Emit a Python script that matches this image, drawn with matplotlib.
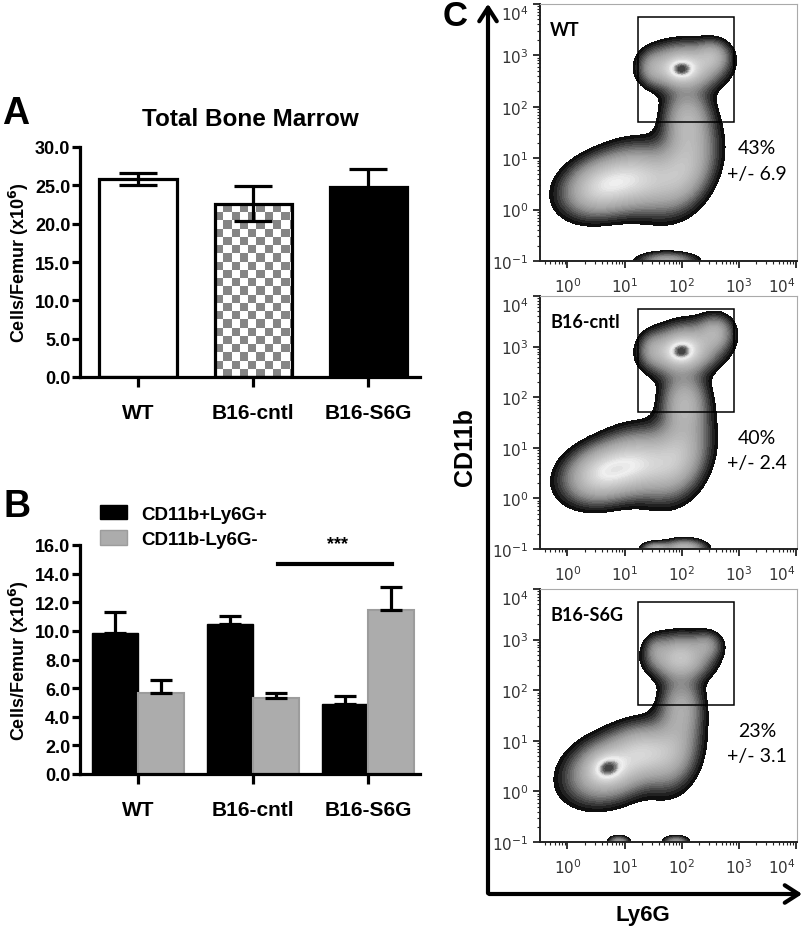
import numpy as np
import matplotlib
matplotlib.use("Agg")
import matplotlib.pyplot as plt
from matplotlib.colors import LinearSegmentedColormap, Normalize
from matplotlib.patches import FancyArrowPatch, Patch

plt.rcParams['font.family'] = ['Liberation Sans', 'DejaVu Sans']

# ---- data -------------------------------------------------------------
groups = ['WT', 'B16-cntl', 'B16-S6G']

# A: total bone marrow (x10^6 cells / femur)
total_mean = [25.8, 22.6, 24.8]
total_sem = [0.8, 2.3, 2.3]

# B: subsets
pos_mean = [9.85, 10.45, 4.9]      # CD11b+Ly6G+
pos_sem = [1.5, 0.6, 0.55]
neg_mean = [5.65, 5.3, 11.45]      # CD11b-Ly6G-
neg_sem = [0.9, 0.35, 1.6]

# C: gate percentages
gate_pct = ['43%', '40%', '23%']
gate_sd = ['+/- 6.9', '+/- 2.4', '+/- 3.1']
gate_x = [1.23, 2.91]   # log10 Ly6G
gate_y = [1.70, 3.75]   # log10 CD11b

# density components: x, y (log10), sx, sy, angle, weight
wt_cx = [1.98, 2.05, 2.55, 1.50, 2.10, 2.05, 0.60, 1.30, 1.75]
wt_cy = [2.72, 2.78, 3.00, 2.75, 1.75, 0.80, 0.45, 0.60, -1.00]
wt_sx = [0.17, 0.38, 0.18, 0.15, 0.25, 0.30, 0.42, 0.40, 0.30]
wt_sy = [0.14, 0.26, 0.18, 0.20, 0.40, 0.50, 0.32, 0.38, 0.10]
wt_ang = [0, 0, 0, 0, 0, -20, 25, 0, 0]
wt_w = [0.32, 0.55, 0.25, 0.15, 0.35, 0.40, 0.55, 0.45, 0.30]

cn_cx = [1.98, 2.05, 2.60, 1.50, 2.05, 1.95, 0.63, 1.30, 1.55, 2.05]
cn_cy = [2.90, 2.95, 3.30, 2.95, 1.90, 0.85, 0.50, 0.70, -1.00, -1.00]
cn_sx = [0.17, 0.38, 0.18, 0.15, 0.24, 0.30, 0.42, 0.38, 0.15, 0.22]
cn_sy = [0.15, 0.28, 0.20, 0.20, 0.38, 0.50, 0.32, 0.38, 0.08, 0.11]
cn_ang = [0, 15, 0, 0, 0, -15, 25, 0, 0, 0]
cn_w = [0.32, 0.55, 0.25, 0.15, 0.35, 0.40, 0.60, 0.45, 0.30, 0.40]

s6_cx = [1.98, 2.45, 1.55, 2.00, 1.85, 0.69, 0.75, 1.35, 0.90, 1.90]
s6_cy = [2.65, 2.90, 2.80, 1.70, 0.80, 0.46, 0.45, 0.80, -1.00, -1.00]
s6_sx = [0.32, 0.16, 0.12, 0.22, 0.28, 0.19, 0.47, 0.32, 0.11, 0.13]
s6_sy = [0.26, 0.16, 0.18, 0.38, 0.48, 0.17, 0.35, 0.32, 0.07, 0.07]
s6_ang = [0, 0, 0, 0, -10, 30, 30, 0, 0, 0]
s6_w = [0.55, 0.20, 0.12, 0.32, 0.35, 0.38, 0.60, 0.40, 0.30, 0.30]

panels_c = [
    ('WT', wt_cx, wt_cy, wt_sx, wt_sy, wt_ang, wt_w),
    ('B16-cntl', cn_cx, cn_cy, cn_sx, cn_sy, cn_ang, cn_w),
    ('B16-S6G', s6_cx, s6_cy, s6_sx, s6_sy, s6_ang, s6_w),
]

# ---- figure -----------------------------------------------------------
W, H = 806, 929
fig = plt.figure(figsize=(W / 100, H / 100), dpi=100)


def fx(px):
    return px / W


def fy(py):
    return 1 - py / H


def style_bar_axes(ax, ymax, step):
    for s in ['top', 'right']:
        ax.spines[s].set_visible(False)
    for s in ['left', 'bottom']:
        ax.spines[s].set_linewidth(2.3)
    ax.set_xlim(-0.504, 2.45)
    ax.set_ylim(0, ymax)
    ax.set_yticks(np.arange(0, ymax + 0.01, step))
    ax.set_yticklabels(['%.1f' % v for v in np.arange(0, ymax + 0.01, step)])
    ax.set_xticks(range(3))
    ax.set_xticklabels(groups)
    ax.tick_params(axis='y', direction='out', length=6, width=2.3, labelsize=13, pad=1)
    ax.tick_params(axis='x', direction='out', length=7, width=2.3, labelsize=15, pad=12)
    for lab in ax.get_xticklabels() + ax.get_yticklabels():
        lab.set_fontweight('bold')
    ax.set_ylabel('Cells/Femur (x10$^\\mathbf{6}$)', fontsize=13, fontweight='bold', labelpad=3)


# ---- panel A ----------------------------------------------------------
axA = fig.add_axes([fx(80), fy(378), fx(420) - fx(80), (378 - 148) / H])
x = np.arange(3)
bars = axA.bar(x, total_mean, width=0.67, color=['white', 'none', 'black'],
               edgecolor='black', linewidth=2.3, zorder=2)
# checkerboard fill for B16-cntl
b = bars[1]
nxs, nys = 10, 23
checker = (np.add.outer(np.arange(nys), np.arange(nxs)) % 2).astype(float)
im = axA.imshow(checker, cmap=LinearSegmentedColormap.from_list('ck', ['white', '#858585']),
                extent=[b.get_x(), b.get_x() + nxs * 0.0713, 0, nys * 1.07],
                origin='lower', interpolation='nearest', aspect='auto', zorder=1)
im.set_clip_path(b)
axA.errorbar(x, total_mean, yerr=total_sem, fmt='none', ecolor='black',
             elinewidth=2.3, capsize=14, capthick=2.3, zorder=3)
style_bar_axes(axA, 30, 5)
axA.set_title('Total Bone Marrow', fontsize=17.5, fontweight='bold', pad=16)
fig.text(fx(2), fy(114), 'A', fontsize=27, fontweight='bold', va='center')

# ---- panel B ----------------------------------------------------------
axB = fig.add_axes([fx(80), fy(775), fx(420) - fx(80), (775 - 546) / H])
axB.bar(x - 0.2, pos_mean, width=0.4, color='black', edgecolor='black', linewidth=1, zorder=2,
        label='CD11b+Ly6G+')
axB.bar(x + 0.2, neg_mean, width=0.4, color='#acacac', edgecolor='#9c9c9c', linewidth=1.5, zorder=2,
        label='CD11b-Ly6G-')
axB.errorbar(x - 0.2, pos_mean, yerr=[np.zeros(3), pos_sem], fmt='none', ecolor='black',
             elinewidth=2.3, capsize=8, capthick=2.3, zorder=3)
axB.errorbar(x + 0.2, neg_mean, yerr=[np.zeros(3), neg_sem], fmt='none', ecolor='black',
             elinewidth=2.3, capsize=8, capthick=2.3, zorder=3)
style_bar_axes(axB, 16, 2)
axB.plot([1.217, 2.209], [14.67, 14.67], color='black', lw=3, clip_on=False)
axB.text(1.73, 16.1, '***', ha='center', va='center', fontsize=13, fontweight='bold')
leg = axB.legend(handles=[Patch(facecolor='black', edgecolor='black'),
                          Patch(facecolor='#acacac', edgecolor='#9c9c9c')],
                 labels=['CD11b+Ly6G+', 'CD11b-Ly6G-'],
                 loc='upper left', bbox_to_anchor=(fx(100), fy(506)), bbox_transform=fig.transFigure,
                 frameon=False, fontsize=13.5, handlelength=1.45, handleheight=0.8,
                 handletextpad=0.75, labelspacing=0.4, borderpad=0, borderaxespad=0)
for t in leg.get_texts():
    t.set_fontweight('bold')
fig.text(fx(4), fy(507), 'B', fontsize=27, fontweight='bold', va='center')

# ---- panel C ----------------------------------------------------------
shade = LinearSegmentedColormap.from_list('shade', [
    (0.0, '#050505'), (0.04, '#262626'), (0.1, '#555555'), (0.2, '#8a8a8a'),
    (0.32, '#a8a8a8'), (0.5, '#c0c0c0'), (0.68, '#d8d8d8'), (0.78, '#f0f0f0'),
    (0.85, '#e0e0e0'), (0.92, '#8a8a8a'), (1.0, '#383838')])
thr = 0.05

gx, gy = np.meshgrid(np.linspace(-0.5, 4.05, 500), np.linspace(-1.1, 4.05, 500))

c_tops = [5, 297, 590]
c_bots = [262, 550, 843]
for i, (name, cx, cy, sx, sy, ang, w) in enumerate(panels_c):
    ax = fig.add_axes([fx(540), fy(c_bots[i]), fx(797) - fx(540), (c_bots[i] - c_tops[i]) / H])
    z = np.zeros_like(gx)
    for k in range(len(cx)):
        a = np.deg2rad(ang[k])
        u = (gx - cx[k]) * np.cos(a) + (gy - cy[k]) * np.sin(a)
        v = -(gx - cx[k]) * np.sin(a) + (gy - cy[k]) * np.cos(a)
        z += w[k] * np.exp(-0.5 * ((u / sx[k]) ** 2 + (v / sy[k]) ** 2))
    z = z / z.max()
    ax.set_xscale('log')
    ax.set_yscale('log')
    ax.contourf(10 ** gx, 10 ** gy, z, levels=np.linspace(thr, 1.0, 40), cmap=shade,
                norm=Normalize(thr, 1.0))
    ax.add_patch(plt.Rectangle((10 ** gate_x[0], 10 ** gate_y[0]),
                               10 ** gate_x[1] - 10 ** gate_x[0], 10 ** gate_y[1] - 10 ** gate_y[0],
                               fill=False, edgecolor='black', lw=1.1, zorder=5))
    ax.set_xlim(10 ** -0.48, 10 ** 4.02)
    ax.set_ylim(10 ** -1, 10 ** 4)
    ax.set_xticks([1, 10, 100, 1000, 10000])
    ax.set_yticks([0.1, 1, 10, 100, 1000, 10000])
    for s in ['top', 'right']:
        ax.spines[s].set_color('#aaaaaa')
        ax.spines[s].set_linewidth(0.8)
    for s in ['left', 'bottom']:
        ax.spines[s].set_color('#222222')
        ax.spines[s].set_linewidth(1.4)
    ax.tick_params(which='major', direction='out', length=5, width=1.3, colors='#222222',
                   labelsize=11, labelcolor='#333333')
    ax.tick_params(which='minor', direction='out', length=2.5, width=0.8, colors='#222222')
    ax.tick_params(axis='x', pad=6)
    for lab in ax.get_xticklabels() + ax.get_yticklabels():
        lab.set_family('DejaVu Sans')
    ax.get_xticklabels()[-1].set_horizontalalignment('right')
    ax.get_yticklabels()[-1].set_verticalalignment('top')
    ax.text(0.04, 0.9, name, transform=ax.transAxes, fontsize=13, fontweight='bold',
            family=['Lato', 'DejaVu Sans'], va='center')
    ax.text(10 ** 3.32, 10 ** 1.2, gate_pct[i], ha='center', va='center', fontsize=14,
            family=['Lato', 'DejaVu Sans'])
    ax.text(10 ** 3.32, 10 ** 0.7, gate_sd[i], ha='center', va='center', fontsize=14,
            family=['Lato', 'DejaVu Sans'])

# big axis arrows
fig.add_artist(FancyArrowPatch((fx(488), fy(897)), (fx(488), fy(2)), transform=fig.transFigure,
                               arrowstyle='->,head_length=0.7,head_width=0.45', mutation_scale=14,
                               lw=3, color='black'))
fig.add_artist(FancyArrowPatch((fx(486.5), fy(895)), (fx(805), fy(895)), transform=fig.transFigure,
                               arrowstyle='->,head_length=0.7,head_width=0.45', mutation_scale=14,
                               lw=3, color='black'))
fig.text(fx(465), fy(447), 'CD11b', rotation=90, ha='center', va='center', fontsize=18,
         fontweight='bold')
fig.text(fx(643), fy(916), 'Ly6G', ha='center', va='center', fontsize=16, fontweight='bold')
fig.text(fx(443), fy(17), 'C', fontsize=25, fontweight='bold', va='center')

fig.savefig('out.png', dpi=100)
